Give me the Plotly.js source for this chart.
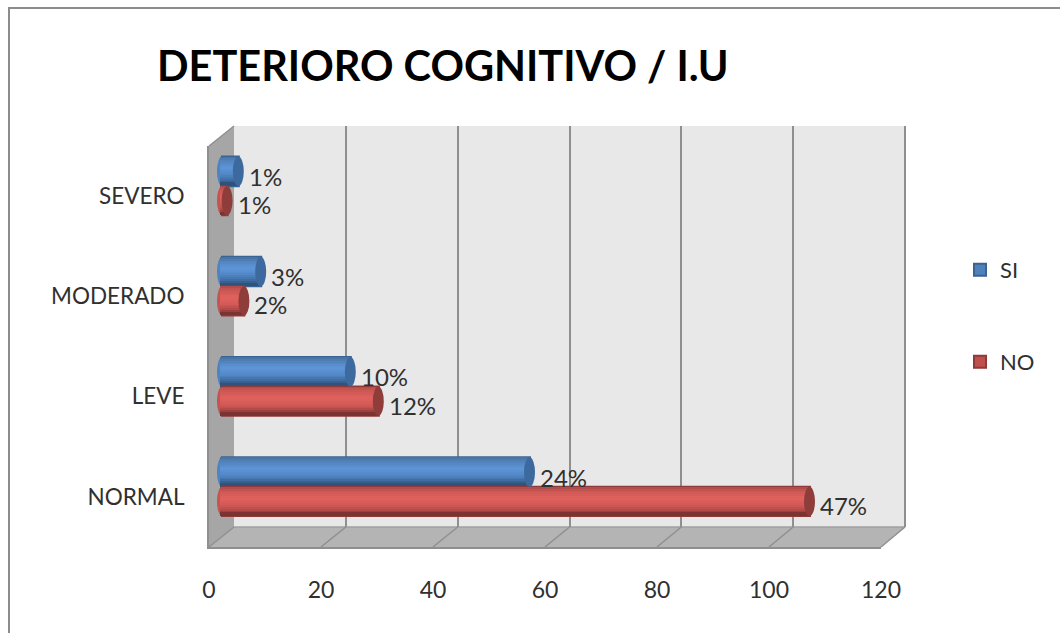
<!DOCTYPE html>
<html>
<head>
<meta charset="utf-8">
<script src="https://cdn.plot.ly/plotly-3.0.1.min.js"></script>
<style>html,body{margin:0;padding:0;background:#fff}</style>
</head>
<body>
<div id="chart" style="width:1060px;height:633px"></div>
<script>
const categories = ["NORMAL", "LEVE", "MODERADO", "SEVERO"];
const siValues = [55, 23, 7, 3];
const noValues = [105, 28, 4, 1];
const siLabels = ["24%", "10%", "3%", "1%"];
const noLabels = ["47%", "12%", "2%", "1%"];
const tickValues = [0, 20, 40, 60, 80, 100, 120];

const W = 1060, H = 633;
const X = p => p / W, Y = p => 1 - p / H;
const FONT = "Lato, 'Open Sans', sans-serif";
const TEXT = "#303030", EDGE = "#8f8f8f";

function mix(a, b, t) {
  const c = (s, i) => parseInt(s.substr(1 + i * 2, 2), 16);
  const out = [0, 1, 2].map(i => Math.round(c(a, i) + (c(b, i) - c(a, i)) * t));
  return "rgb(" + out.join(",") + ")";
}
function ramp(stops, t) {
  for (let i = 1; i < stops.length; i++) {
    if (t <= stops[i][0]) {
      const s = stops[i - 1], e = stops[i];
      return mix(s[1], e[1], (t - s[0]) / (e[0] - s[0]));
    }
  }
  return stops[stops.length - 1][1];
}
const series = [
  { name: "SI", values: siValues, labels: siLabels, top: 0.295, height: 0.295, legend: "legend", base: "#4f81bd", line: "#3a6391", cap: "#3c6a9f", endCap: "#4f82bf", labelShift: -5,
    stops: [[0, "#47709f"], [0.12, "#5080b8"], [0.38, "#5e96da"], [0.6, "#5288c6"], [0.8, "#3e6b9e"], [0.94, "#2c4c72"], [1, "#35567e"]] },
  { name: "NO", values: noValues, labels: noLabels, top: 0, height: 0.29, legend: "legend2", base: "#c0504d", line: "#8f3a38", cap: "#8f3d3b", endCap: "#c25451", labelShift: -4,
    stops: [[0, "#a84a48"], [0.12, "#c95654"], [0.38, "#e0625f"], [0.6, "#d55a57"], [0.8, "#b04a47"], [0.94, "#6d2c2a"], [1, "#8a3a38"]] }
];

const traces = [];
traces.push({ type: "scatter", mode: "markers", x: noValues, y: categories, xaxis: "x", yaxis: "y", marker: { opacity: 0 }, showlegend: false, hoverinfo: "skip" });

const STRIPS = 16;
const LEFT_PAD = 0.36; // shading strips reach slightly behind the zero line, into the rounded end
const shapes = [];
const annotations = [];

function poly(pts, fill) {
  return { type: "path", xref: "paper", yref: "paper", layer: "below", fillcolor: fill, line: { width: 0 },
    path: pts.map((p, i) => (i ? "L" : "M") + X(p[0]) + "," + Y(p[1])).join(" ") + " Z" };
}
function seg(x0, y0, x1, y1, color, width) {
  return { type: "line", xref: "paper", yref: "paper", layer: "below", x0: X(x0), y0: Y(y0), x1: X(x1), y1: Y(y1), line: { color: color, width: width } };
}
shapes.push(poly([[234, 126], [905, 126], [905, 527], [234, 527]], "#e8e8e8"));
shapes.push(poly([[209, 146], [234, 126], [234, 527], [209, 547]], "#a6a6a6"));
shapes.push(poly([[209, 547], [234, 527], [905, 527], [881, 547]], "#b4b4b4"));
shapes.push(seg(209, 146, 234, 126, EDGE, 1.5));
shapes.push(seg(234, 527, 905, 527, "#a0a0a0", 1.5));
shapes.push(seg(905, 126, 905, 527, EDGE, 2));
shapes.push(seg(10, 8, 1060, 8, "#8c8c8c", 2));
shapes.push(seg(9, 7, 9, 633, "#8c8c8c", 2));
tickValues.forEach(v => {
  const fx = 209 + v * 672 / 120, bx = 234 + v * 671 / 120;
  shapes.push(seg(fx, 547, bx, 527, EDGE, 1.5));
});

series.forEach(s => {
  traces.push({ type: "bar", orientation: "h", name: s.name, x: s.values, y: categories, xaxis: "x2", yaxis: "y2",
    offset: s.top - s.height, width: s.height, legend: s.legend, showlegend: true,
    marker: { color: s.base, line: { color: s.line, width: 2 } }, hoverinfo: "x+name" });
  for (let i = 0; i < STRIPS; i++) {
    const t = i / STRIPS;
    const h = s.height * (1 - t);
    traces.push({ type: "bar", orientation: "h", x: s.values.map(v => v + LEFT_PAD), base: -LEFT_PAD, y: categories, xaxis: "x2", yaxis: "y2",
      offset: s.top - s.height, width: h, showlegend: false, hoverinfo: "skip",
      marker: { color: ramp(s.stops, t + 0.5 / STRIPS), line: { width: 0 } } });
  }
  s.values.forEach((v, i) => {
    const y0 = i + s.top - s.height, y1 = i + s.top;
    shapes.push({ type: "circle", xref: "x2", yref: "y2", layer: "below", xsizemode: "pixel", xanchor: 0, x0: -5, x1: 5, y0: y0, y1: y1, fillcolor: s.endCap, line: { width: 0 } });
    shapes.push({ type: "circle", xref: "x2", yref: "y2", layer: "above", xsizemode: "pixel", xanchor: v, x0: -6, x1: 5, y0: y0, y1: y1, fillcolor: s.cap, line: { width: 0 } });
    annotations.push({ xref: "x2", yref: "y2", x: v, y: i + s.top - s.height / 2, text: s.labels[i], showarrow: false,
      xanchor: "left", yanchor: "middle", xshift: 8, yshift: s.labelShift, font: { family: FONT, size: 24, color: TEXT } });
  });
});

traces.push({ type: "scatter", mode: "markers", x: noValues, y: categories, xaxis: "x3", yaxis: "y3", marker: { opacity: 0 }, showlegend: false, hoverinfo: "skip" });

const catAxis = { type: "category", categoryorder: "array", categoryarray: categories, range: [-0.5, 3.5] };
const layout = {
  width: W, height: H, autosize: false,
  margin: { l: 0, r: 0, t: 0, b: 0, pad: 0 },
  paper_bgcolor: "#ffffff", plot_bgcolor: "rgba(0,0,0,0)",
  barmode: "overlay", bargap: 0,
  title: { text: "<b>DETERIORO COGNITIVO / I.U</b>", x: X(157), xref: "paper", xanchor: "left", y: Y(66), yref: "paper", yanchor: "middle",
    font: { family: FONT, size: 41.5, color: "#000000" } },
  xaxis: { domain: [X(234), X(905)], range: [0, 120], tickvals: tickValues, showticklabels: false, showgrid: true, gridcolor: EDGE, gridwidth: 2, zeroline: false, anchor: "y" },
  yaxis: Object.assign({}, catAxis, { domain: [Y(527), Y(126)], showticklabels: false, showgrid: false, zeroline: false, anchor: "x" }),
  xaxis2: { domain: [X(212), X(894)], range: [-10 * 120 / 672, 120], showticklabels: false, showgrid: false, zeroline: false, anchor: "y2" },
  yaxis2: Object.assign({}, catAxis, { domain: [Y(537), Y(136)], showticklabels: false, showgrid: false, zeroline: false, anchor: "x2" }),
  xaxis3: { domain: [X(209), X(881)], range: [0, 120], tickvals: tickValues, showgrid: false, zeroline: false, anchor: "y3",
    showline: true, linecolor: EDGE, linewidth: 2, ticks: "outside", ticklen: 21, tickcolor: "rgba(0,0,0,0)", tickfont: { family: FONT, size: 23, color: TEXT } },
  yaxis3: Object.assign({}, catAxis, { domain: [Y(547), Y(146)], showgrid: false, zeroline: false, anchor: "x3",
    showline: true, linecolor: EDGE, linewidth: 2, ticks: "outside", ticklen: 18, tickfont: { family: FONT, size: 22.5, color: TEXT }, tickcolor: "rgba(0,0,0,0)" }),
  legend: { x: X(960), y: Y(270), xanchor: "left", yanchor: "middle", bgcolor: "rgba(0,0,0,0)", font: { family: FONT, size: 22, color: TEXT } },
  legend2: { x: X(960), y: Y(362), xanchor: "left", yanchor: "middle", bgcolor: "rgba(0,0,0,0)", font: { family: FONT, size: 22, color: TEXT } },
  shapes: shapes,
  annotations: annotations
};
Plotly.newPlot("chart", traces, layout, { displayModeBar: false, staticPlot: true });
</script>
</body>
</html>
